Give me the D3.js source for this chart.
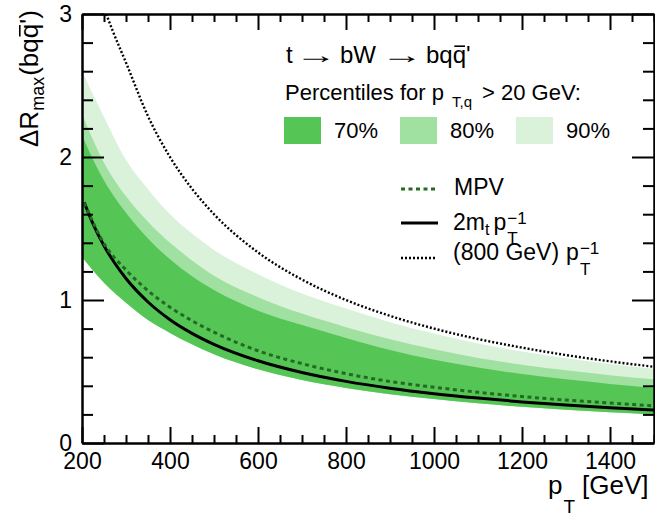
<!DOCTYPE html>
<html><head><meta charset="utf-8">
<script src="https://cdn.jsdelivr.net/npm/d3@7"></script>
<style>
body{margin:0;background:#fff}
text{font-family:"Liberation Sans",Arial,Helvetica,sans-serif;fill:#000}
</style>
</head><body>
<svg id="c" width="655" height="517"></svg>
<script>
// ---------------- data ----------------
const pT     = [200, 250, 300, 350, 400, 450, 500, 600, 700, 800, 900, 1000, 1100, 1200, 1300, 1400, 1500];
const lower  = [1.30, 1.12, 0.98, 0.86, 0.77, 0.69, 0.62, 0.515, 0.44, 0.385, 0.341, 0.307, 0.278, 0.253, 0.233, 0.215, 0.200];
const top70  = [2.15, 1.835, 1.61, 1.43, 1.285, 1.166, 1.07, 0.925, 0.825, 0.735, 0.65, 0.582, 0.528, 0.482, 0.445, 0.413, 0.385];
const top80  = [2.30, 1.96, 1.725, 1.548, 1.40, 1.277, 1.17, 1.02, 0.905, 0.81, 0.725, 0.655, 0.595, 0.548, 0.508, 0.474, 0.445];
const top90  = [2.60, 2.28, 1.98, 1.775, 1.60, 1.465, 1.35, 1.18, 1.045, 0.94, 0.845, 0.765, 0.695, 0.64, 0.593, 0.553, 0.52];

const mpvPT  = [205, 250, 300, 350, 400, 450, 500, 600, 700, 800, 900, 1000, 1100, 1200, 1300, 1400, 1500];
const mpv    = [1.68, 1.395, 1.21, 1.065, 0.95, 0.855, 0.775, 0.645, 0.555, 0.485, 0.43, 0.39, 0.355, 0.325, 0.30, 0.28, 0.26];

const mtPT   = [205, 225, 250, 275, 300, 350, 400, 450, 500, 600, 700, 800, 900, 1000, 1100, 1200, 1300, 1400, 1500];
const mtLine = [1.683, 1.533, 1.38, 1.255, 1.15, 0.986, 0.8625, 0.767, 0.69, 0.575, 0.493, 0.431, 0.383, 0.345, 0.314, 0.2875, 0.265, 0.246, 0.23];

const gevPT   = [255, 270, 300, 350, 400, 450, 500, 600, 700, 800, 900, 1000, 1100, 1200, 1300, 1400, 1500];
const gevLine = [3.0, 2.88, 2.66, 2.285, 2.0, 1.778, 1.6, 1.333, 1.143, 1.0, 0.889, 0.8, 0.727, 0.667, 0.615, 0.571, 0.533];

const xTickValues = [200, 400, 600, 800, 1000, 1200, 1400];
const xTickLabels = ["200", "400", "600", "800", "1000", "1200", "1400"];
const yTickValues = [0, 1, 2, 3];
const yTickLabels = ["0", "1", "2", "3"];

const bandLabels = ["70%", "80%", "90%"];
const bandColors = ["#55c655", "#a0e0a0", "#d9f2d9"];

// ---------------- layout ----------------
const L = 82, R = 654, T = 14, B = 443;
const svg = d3.select("#c");
const x = d3.scaleLinear().domain([200, 1500]).range([L, R]);
const y = d3.scaleLinear().domain([0, 3]).range([B, T]);

svg.append("defs").append("clipPath").attr("id", "clip")
  .append("rect").attr("x", L).attr("y", T).attr("width", R - L).attr("height", B - T);

const plot = svg.append("g").attr("clip-path", "url(#clip)");

function band(tops) {
  return d3.area().x((d, i) => x(pT[i])).y0((d, i) => y(lower[i])).y1((d, i) => y(tops[i])).curve(d3.curveMonotoneX)(pT);
}
[top90, top80, top70].forEach((tops, k) => {
  plot.append("path").attr("d", band(tops)).attr("fill", bandColors[2 - k]);
});

const line = (xs, ys) => d3.line().x((d, i) => x(xs[i])).y((d, i) => y(ys[i])).curve(d3.curveMonotoneX)(xs);

plot.append("path").attr("d", line(gevPT, gevLine)).attr("fill", "none")
  .attr("stroke", "#000").attr("stroke-width", 2.4).attr("stroke-dasharray", "2,2");
plot.append("path").attr("d", line(mtPT, mtLine)).attr("fill", "none")
  .attr("stroke", "#000").attr("stroke-width", 3);
plot.append("path").attr("d", line(mpvPT, mpv)).attr("fill", "none")
  .attr("stroke", "#226b22").attr("stroke-width", 3).attr("stroke-dasharray", "4,3.5");

// ---------------- axes ----------------
const xMinor = d3.range(200, 1501, 50).filter(v => v % 200 !== 0);
const yMinor = d3.range(0, 3.001, 0.2).map(v => +v.toFixed(1)).filter(v => Math.abs(v - Math.round(v)) > 1e-6);

function styleAxis(g) {
  g.selectAll(".domain").attr("stroke", "#000").attr("stroke-width", 2.5);
  g.selectAll(".tick line").attr("stroke", "#000").attr("stroke-width", 2);
  g.selectAll(".tick text").attr("font-size", 23).attr("font-family", "Liberation Sans, Arial, sans-serif").attr("fill", "#000");
}
function minor(axisFn, vals, size, tr) {
  const g = svg.append("g").attr("transform", tr).call(axisFn.tickValues(vals).tickSizeInner(size).tickSizeOuter(0).tickFormat(""));
  g.select(".domain").remove();
  styleAxis(g);
}
minor(d3.axisBottom(x), xMinor, -8, `translate(0,${B})`);
minor(d3.axisTop(x), xMinor, -8, `translate(0,${T})`);
minor(d3.axisLeft(y), yMinor, -11, `translate(${L},0)`);
minor(d3.axisRight(y), yMinor, -11, `translate(${R},0)`);

styleAxis(svg.append("g").attr("transform", `translate(0,${B})`)
  .call(d3.axisBottom(x).tickValues(xTickValues).tickSizeInner(-16).tickSizeOuter(0).tickPadding(10)
    .tickFormat((d, i) => xTickLabels[i])));
styleAxis(svg.append("g").attr("transform", `translate(0,${T})`)
  .call(d3.axisTop(x).tickValues(xTickValues).tickSizeInner(-16).tickSizeOuter(0).tickFormat("")));
styleAxis(svg.append("g").attr("transform", `translate(${L},0)`)
  .call(d3.axisLeft(y).tickValues(yTickValues).tickSizeInner(-22).tickSizeOuter(0).tickPadding(10)
    .tickFormat((d, i) => yTickLabels[i])));
styleAxis(svg.append("g").attr("transform", `translate(${R},0)`)
  .call(d3.axisRight(y).tickValues(yTickValues).tickSizeInner(-22).tickSizeOuter(0).tickFormat("")));

// ---------------- rich text helper ----------------
function rich(g, x0, y0, parts) {
  let cx = x0, lastStart = x0;
  parts.forEach(p => {
    const start = p.x !== undefined ? p.x : (p.stack ? lastStart : cx);
    const yy = y0 + (p.dy || 0);
    const t = g.append("text").attr("x", start).attr("y", yy)
      .attr("font-size", p.size).text(p.t);
    let w = t.node().getComputedTextLength();
    if (p.sx) {
      // stretch a glyph horizontally
      t.attr("x", 0).attr("y", 0)
        .attr("transform", `translate(${start},${yy}) scale(${p.sx},1)`);
      w = w * p.sx;
    }
    if (p.over) {
      g.append("line").attr("x1", start + w * 0.12).attr("x2", start + w * 0.92)
        .attr("y1", y0 - p.size * 0.7).attr("y2", y0 - p.size * 0.7)
        .attr("stroke", "#000").attr("stroke-width", 1.6);
    }
    if (p.stack) cx = Math.max(cx, start + w);
    else { cx = start + w; lastStart = start; }
    cx += p.gap || 0;
  });
}

// axis titles
const xt = svg.append("g");
rich(xt, 548, 494, [
  {t: "p", size: 26, gap: 1},
  {t: "T", size: 19, dy: 19, gap: 7},
  {t: "[GeV]", size: 26}
]);
const yt = svg.append("g").attr("transform", "translate(38,147) rotate(-90)");
rich(yt, 0, 0, [
  {t: "ΔR", size: 26},
  {t: "max", size: 18, dy: 6, gap: 1},
  {t: "(bq", size: 26},
  {t: "q", size: 26, over: true},
  {t: "')", size: 26}
]);

// ---------------- legend ----------------
const lg = svg.append("g");
rich(lg, 286, 63, [
  {t: "t", size: 24, x: 286},
  {t: "→", size: 24, x: 295, sx: 1.75},
  {t: "bW", size: 24, x: 340},
  {t: "→", size: 24, x: 381, sx: 1.75},
  {t: "bq", size: 24, x: 426},
  {t: "q", size: 24, over: true},
  {t: "'", size: 24}
]);
rich(lg, 285, 100, [
  {t: "Percentiles for p", size: 22, x: 285},
  {t: "T,q", size: 15, x: 452, dy: 7},
  {t: "> 20 GeV:", size: 22, x: 482}
]);
const boxX = [284, 400, 516];
bandLabels.forEach((lab, i) => {
  lg.append("rect").attr("x", boxX[i]).attr("y", 117).attr("width", 37).attr("height", 27).attr("fill", bandColors[i]);
  lg.append("text").attr("x", boxX[i] + 50).attr("y", 138).attr("font-size", 22).text(lab);
});

lg.append("line").attr("x1", 401).attr("x2", 436).attr("y1", 189).attr("y2", 189)
  .attr("stroke", "#226b22").attr("stroke-width", 3).attr("stroke-dasharray", "4,3.5");
rich(lg, 454, 195, [{t: "MPV", size: 23}]);

lg.append("line").attr("x1", 401).attr("x2", 438).attr("y1", 223).attr("y2", 223)
  .attr("stroke", "#000").attr("stroke-width", 3);
rich(lg, 453, 230, [
  {t: "2m", size: 23},
  {t: "t", size: 16, dy: 5, gap: 4},
  {t: "p", size: 23, gap: 1},
  {t: "T", size: 17, dy: 14},
  {t: "−1", size: 17, dy: -6, stack: true}
]);

lg.append("line").attr("x1", 401).attr("x2", 437).attr("y1", 258).attr("y2", 258)
  .attr("stroke", "#000").attr("stroke-width", 2.4).attr("stroke-dasharray", "2,2");
rich(lg, 453, 260, [
  {t: "(800 GeV)", size: 23, gap: 7},
  {t: "p", size: 23, gap: 1},
  {t: "T", size: 17, dy: 15},
  {t: "−1", size: 17, dy: -6, stack: true}
]);
</script>
</body></html>
